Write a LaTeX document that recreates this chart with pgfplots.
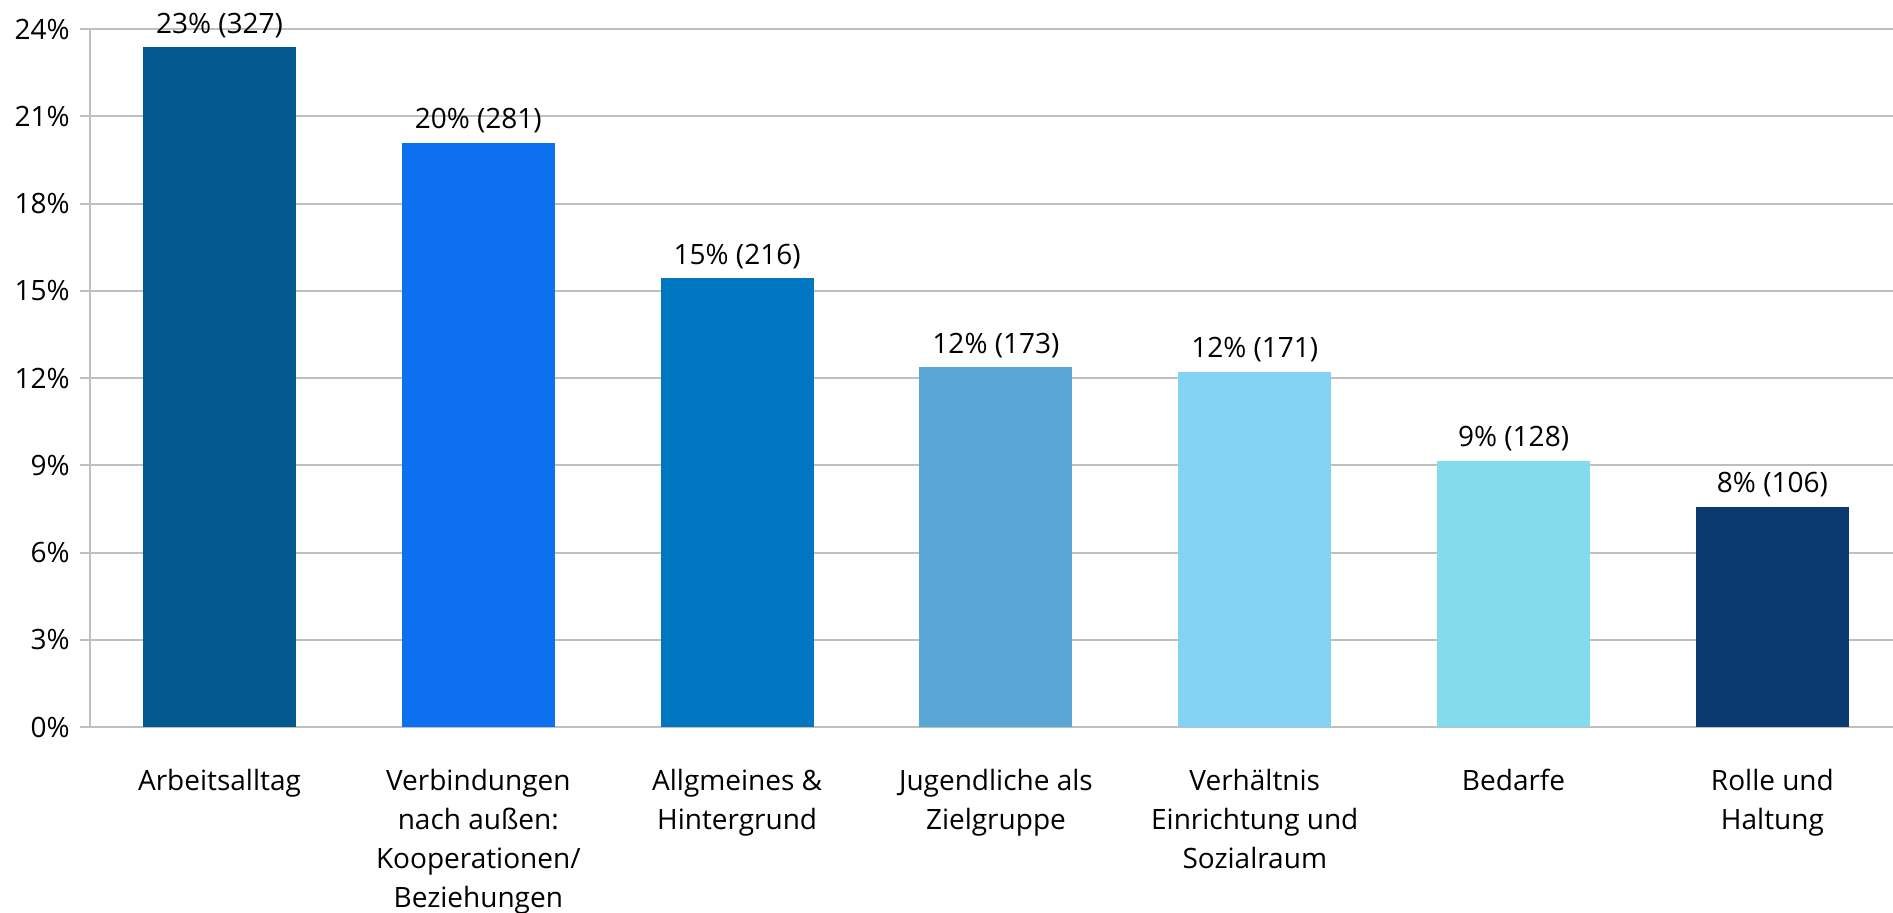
\documentclass[border=0pt]{standalone}
\usepackage{pgfplots}
\pgfplotsset{compat=1.18}
\usepackage{fontspec}
\setmainfont{Open Sans}
\definecolor{c1}{HTML}{02598F}
\definecolor{c2}{HTML}{0D71EF}
\definecolor{c3}{HTML}{0077C0}
\definecolor{c4}{HTML}{5AA6D7}
\definecolor{c5}{HTML}{84D2F4}
\definecolor{c6}{HTML}{82DCEC}
\definecolor{c7}{HTML}{0A3A70}
\definecolor{gridc}{HTML}{BFBFBF}
\begin{document}
\begin{tikzpicture}
\fontsize{14pt}{19.5pt}\selectfont
\begin{axis}[
  scale only axis,
  width=901.5pt, height=349pt,
  xmin=-0.5, xmax=6.466,
  ymin=0, ymax=24,
  ybar, bar width=76.5pt, bar shift=0pt,
  axis x line=bottom, axis y line=left,
  axis line style={-, draw=gridc, line width=1pt},
  ytick={0,3,...,24},
  yticklabel={\pgfmathprintnumber{\tick}\%},
  /pgf/number format/assume math mode=true,
  ymajorgrids, grid style={draw=gridc, line width=1pt},
  major tick length=5pt,
  ytick style={draw=gridc, line width=1pt},
  tick align=outside,
  xtick={0,...,6},
  xtick style={draw=none},
  xticklabels={Arbeitsalltag, {Verbindungen\\nach außen:\\Kooperationen/\\Beziehungen}, {Allgmeines \&\\Hintergrund}, {Jugendliche als\\Zielgruppe}, {Verhältnis\\Einrichtung und\\Sozialraum}, Bedarfe, {Rolle und\\Haltung}},
  xticklabel style={align=center, anchor=north, inner sep=0pt, yshift=-16pt, font=\fontsize{14pt}{19.4pt}\selectfont},
  yticklabel style={anchor=east, inner sep=0pt, xshift=-5pt, font=\fontsize{14pt}{19.5pt}\selectfont},
  every node near coord/.append style={font=\fontsize{14pt}{19.5pt}\selectfont, text=black, inner sep=0pt, yshift=4.6pt},
  clip=false,
]
\addplot[fill=c1, draw=none, nodes near coords={23\% (327)}] coordinates {(0,23.37)};
\addplot[fill=c2, draw=none, nodes near coords={20\% (281)}] coordinates {(1,20.09)};
\addplot[fill=c3, draw=none, nodes near coords={15\% (216)}] coordinates {(2,15.44)};
\addplot[fill=c4, draw=none, nodes near coords={12\% (173)}] coordinates {(3,12.37)};
\addplot[fill=c5, draw=none, nodes near coords={12\% (171)}] coordinates {(4,12.22)};
\addplot[fill=c6, draw=none, nodes near coords={9\% (128)}] coordinates {(5,9.15)};
\addplot[fill=c7, draw=none, nodes near coords={8\% (106)}] coordinates {(6,7.58)};
\coordinate (tl) at (axis cs:-0.848,25.0);
\coordinate (br) at (axis cs:6.466,-6.361);
\end{axis}
\pgfresetboundingbox
\useasboundingbox (tl) rectangle (br);
\end{tikzpicture}
\end{document}
